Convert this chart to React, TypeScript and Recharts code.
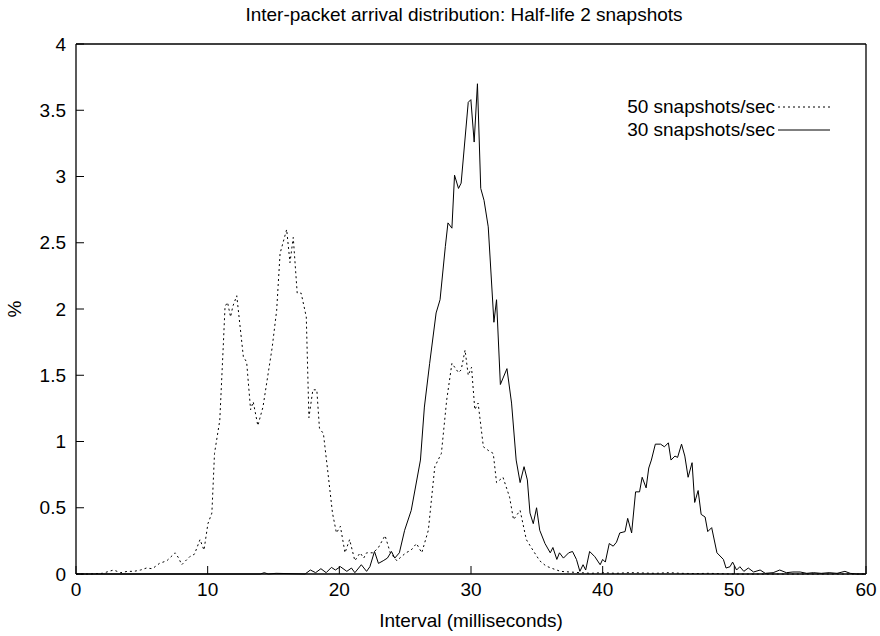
import { LineChart, Line, XAxis, YAxis, Label } from "recharts";

const TITLE = "Inter-packet arrival distribution: Half-life 2 snapshots";
const X_LABEL = "Interval (milliseconds)";
const Y_LABEL = "%";
const X_TICKS = [0, 10, 20, 30, 40, 50, 60];
const Y_TICKS = [0, 0.5, 1, 1.5, 2, 2.5, 3, 3.5, 4];

const NAME_50 = "50 snapshots/sec";
const NAME_30 = "30 snapshots/sec";

// 50 snapshots/sec (dotted)
const x50 = [
  0, 1, 2, 2.85, 3.4, 3.9, 4.4, 4.9, 5.35, 5.8, 6.34, 6.9, 7.53, 7.8, 8.03, 8.63, 9.0, 9.42, 9.72,
  10.02, 10.32, 10.52, 10.92, 11.18, 11.32, 11.51, 11.74, 11.91, 12.21, 12.71, 12.96, 13.26, 13.46,
  13.81, 14.2, 14.9, 15.24, 15.5, 16.0, 16.25, 16.5, 16.8, 17.1, 17.49, 17.69, 17.99, 18.29, 18.49,
  18.79, 19.14, 19.48, 19.78, 20.08, 20.43, 20.78, 21.18, 21.58, 21.85, 22.07, 22.57, 22.97, 23.47,
  23.87, 24.37, 24.7, 25.06, 25.45, 25.86, 26.26, 26.76, 27.25, 27.75, 28.15, 28.55, 29.05, 29.25,
  29.55, 29.79, 30.04, 30.29, 30.54, 30.94, 31.35, 31.69, 31.94, 32.43, 32.93, 33.23, 33.73, 34.2,
  34.7, 35.22, 35.7, 36.22, 36.8, 37.5, 38.3, 39.1, 40, 41, 42, 43, 44, 45, 46, 47, 48, 50, 60,
];
const y50 = [
  0, 0, 0.005, 0.03, 0.01, 0.02, 0.02, 0.03, 0.045, 0.04, 0.08, 0.1, 0.16, 0.12, 0.07, 0.13, 0.15,
  0.26, 0.18, 0.38, 0.46, 0.91, 1.16, 1.71, 2.02, 2.05, 1.94, 2.02, 2.1, 1.64, 1.6, 1.24, 1.3, 1.12,
  1.26, 1.71, 1.99, 2.42, 2.6, 2.35, 2.54, 2.12, 2.12, 1.94, 1.18, 1.39, 1.39, 1.1, 1.06, 0.76, 0.46,
  0.31, 0.36, 0.16, 0.26, 0.1, 0.16, 0.12, 0.16, 0.16, 0.2, 0.29, 0.16, 0.1, 0.13, 0.16, 0.18, 0.23,
  0.16, 0.33, 0.81, 0.91, 1.31, 1.59, 1.52, 1.54, 1.69, 1.5, 1.56, 1.24, 1.29, 0.96, 0.93, 0.91, 0.69,
  0.73, 0.58, 0.41, 0.48, 0.26, 0.18, 0.1, 0.06, 0.04, 0.02, 0.015, 0.01, 0.005, 0.01, 0.005, 0.01,
  0.008, 0.005, 0.01, 0.005, 0.003, 0.005, 0, 0,
];

// 30 snapshots/sec (solid)
const x30 = [
  0, 14, 14.3, 14.6, 15.2, 17.4, 17.8, 18.2, 18.6, 19.0, 19.4, 19.7, 20.08, 20.57, 20.92, 21.18,
  21.67, 22.07, 22.32, 22.67, 22.97, 23.33, 23.65, 23.96, 24.21, 24.56, 24.96, 25.46, 26.16, 26.46,
  26.86, 27.35, 27.65, 28.05, 28.25, 28.55, 28.75, 29.05, 29.25, 29.79, 29.99, 30.24, 30.49, 30.74,
  30.99, 31.31, 31.74, 31.94, 32.23, 32.73, 33.08, 33.43, 33.73, 34.03, 34.28, 34.48, 34.73, 34.98,
  35.22, 35.62, 36.02, 36.22, 36.52, 36.72, 37.02, 37.42, 37.71, 38.01, 38.27, 38.51, 38.71, 39.01,
  39.41, 39.81, 40.0, 40.2, 40.5, 40.8, 41.05, 41.3, 41.7, 41.9, 42.2, 42.5, 42.8, 43.0, 43.3, 43.5,
  43.7, 44.0, 44.4, 44.69, 44.99, 45.19, 45.49, 45.69, 45.99, 46.24, 46.49, 46.79, 46.99, 47.25,
  47.48, 47.78, 47.98, 48.28, 48.68, 49.17, 49.37, 49.67, 49.87, 50.17, 50.42, 50.72, 51.06, 51.46,
  51.96, 52.35, 52.95, 53.45, 53.95, 54.45, 55.0, 55.5, 56.0, 56.6, 57.2, 57.8, 58.4, 58.8, 59.3, 60,
];
const y30 = [
  0, 0, 0.01, 0, 0.005, 0, 0.03, 0.01, 0.04, 0.01, 0.05, 0.03, 0.055, 0.02, 0.045, 0.01, 0.07, 0.02,
  0.055, 0.17, 0.08, 0.1, 0.12, 0.17, 0.12, 0.16, 0.33, 0.48, 0.86, 1.26, 1.59, 1.97, 2.07, 2.47,
  2.65, 2.61, 3.01, 2.91, 2.95, 3.56, 3.58, 3.26, 3.7, 2.91, 2.82, 2.62, 1.9, 2.07, 1.43, 1.55, 1.29,
  0.86, 0.69, 0.81, 0.71, 0.46, 0.38, 0.5, 0.33, 0.23, 0.16, 0.2, 0.11, 0.16, 0.12, 0.16, 0.17, 0.11,
  0.02, 0.07, 0.03, 0.17, 0.13, 0.07, 0.11, 0.09, 0.23, 0.21, 0.24, 0.31, 0.32, 0.42, 0.31, 0.62,
  0.62, 0.73, 0.65, 0.8, 0.86, 0.98, 0.98, 0.96, 0.99, 0.86, 0.89, 0.88, 0.98, 0.89, 0.73, 0.84,
  0.54, 0.63, 0.45, 0.43, 0.32, 0.35, 0.16, 0.11, 0.045, 0.055, 0.09, 0.03, 0.055, 0.02, 0.045,
  0.015, 0.03, 0.005, 0.01, 0.03, 0.01, 0.015, 0.015, 0.005, 0.01, 0.005, 0.01, 0.005, 0.02, 0.005,
  0, 0,
];

const toPoints = (xs: number[], ys: number[]) => xs.map((x, i) => ({ x, y: ys[i] }));
const data50 = toPoints(x50, y50);
const data30 = toPoints(x30, y30);

const FONT = "'Liberation Sans', Arial, Helvetica, sans-serif";
const FS = 19;
const tickStyle = { fill: "#000", fontSize: FS, fontFamily: FONT };
const axisLine = { stroke: "#000", strokeWidth: 1.3 };
const tickLine = { stroke: "#000", strokeWidth: 1 };

export default function App() {
  return (
    <div
      style={{
        position: "absolute",
        left: 0,
        top: 0,
        width: 880,
        height: 636,
        background: "#fff",
        fontFamily: FONT,
      }}
    >
      <LineChart width={880} height={636} margin={{ top: 43, right: 13, bottom: 0, left: 0 }}>
        <XAxis
          dataKey="x"
          type="number"
          domain={[0, 60]}
          ticks={X_TICKS}
          height={62}
          tickSize={-8}
          tickMargin={17}
          tick={tickStyle}
          axisLine={axisLine}
          tickLine={tickLine}
        >
          <Label
            content={(props: any) => {
              const vb = props.viewBox || {};
              return (
                <text
                  x={vb.x + vb.width / 2}
                  y={620}
                  textAnchor="middle"
                  dominantBaseline="central"
                  fontSize={FS}
                  fontFamily={FONT}
                  fill="#000"
                >
                  {X_LABEL}
                </text>
              );
            }}
          />
        </XAxis>
        <XAxis
          xAxisId="top"
          orientation="top"
          dataKey="x"
          type="number"
          domain={[0, 60]}
          ticks={X_TICKS}
          height={1}
          tickSize={-8}
          tickFormatter={() => ""}
          axisLine={axisLine}
          tickLine={tickLine}
        />
        <YAxis
          type="number"
          domain={[0, 4]}
          ticks={Y_TICKS}
          width={76}
          tickSize={-8}
          tickMargin={18}
          tick={tickStyle}
          axisLine={axisLine}
          tickLine={tickLine}
        >
          <Label
            content={(props: any) => {
              const vb = props.viewBox || {};
              const cy = vb.y + vb.height / 2;
              return (
                <text
                  x={14}
                  y={cy}
                  transform={`rotate(-90 14 ${cy})`}
                  textAnchor="middle"
                  dominantBaseline="central"
                  fontSize={FS}
                  fontFamily={FONT}
                  fill="#000"
                >
                  {Y_LABEL}
                </text>
              );
            }}
          />
        </YAxis>
        <YAxis
          yAxisId="right"
          orientation="right"
          type="number"
          domain={[0, 4]}
          ticks={Y_TICKS}
          width={1}
          tickSize={-8}
          tickFormatter={() => ""}
          axisLine={axisLine}
          tickLine={tickLine}
        />
        <Line
          data={data50}
          dataKey="y"
          name={NAME_50}
          type="linear"
          stroke="#000"
          strokeWidth={1}
          strokeDasharray="2 3"
          dot={false}
          isAnimationActive={false}
        />
        <Line
          data={data30}
          dataKey="y"
          name={NAME_30}
          type="linear"
          stroke="#000"
          strokeWidth={1}
          dot={false}
          isAnimationActive={false}
        />
      </LineChart>

      <div
        style={{
          position: "absolute",
          left: 464,
          top: 15,
          transform: "translate(-50%, -50%)",
          whiteSpace: "nowrap",
          fontSize: FS,
          color: "#000",
        }}
      >
        {TITLE}
      </div>

      <div style={{ position: "absolute", right: 880 - 830, top: 95, fontSize: FS, color: "#000" }}>
        {[
          { name: NAME_50, dash: "2 3" },
          { name: NAME_30, dash: undefined },
        ].map((item) => (
          <div
            key={item.name}
            style={{ display: "flex", alignItems: "center", justifyContent: "flex-end", height: 23.5 }}
          >
            <span style={{ whiteSpace: "nowrap" }}>{item.name}</span>
            <svg width={52} height={4} style={{ marginLeft: 3 }}>
              <line x1={0} y1={2} x2={52} y2={2} stroke="#000" strokeWidth={1} strokeDasharray={item.dash} />
            </svg>
          </div>
        ))}
      </div>
    </div>
  );
}
